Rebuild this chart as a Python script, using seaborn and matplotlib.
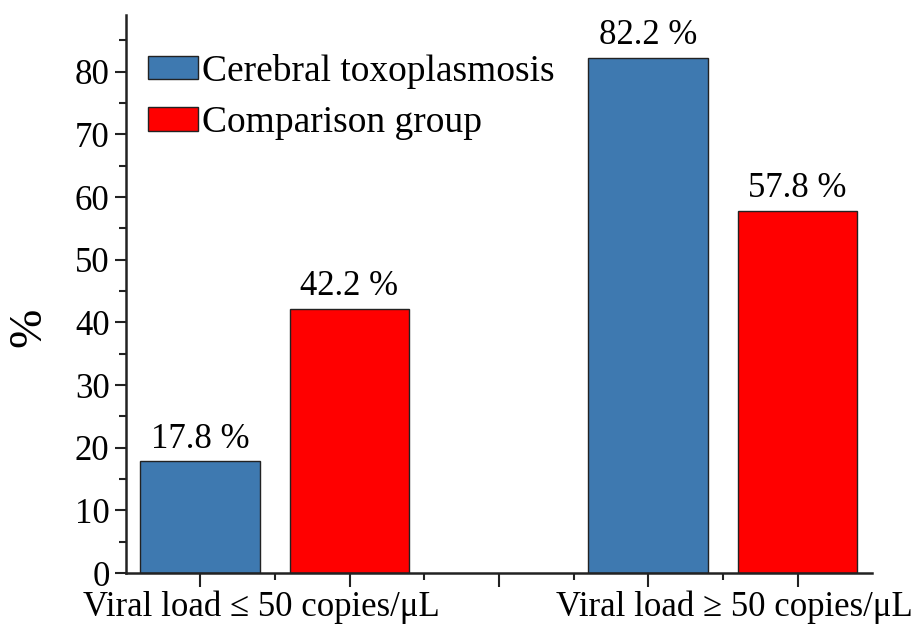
import matplotlib
matplotlib.use("Agg")
import matplotlib.pyplot as plt
import pandas as pd
import seaborn as sns

categories = ["Viral load \u2264 50 copies/\u03bcL", "Viral load \u2265 50 copies/\u03bcL"]
groups = ["Cerebral toxoplasmosis", "Comparison group"]
toxo_values = [17.8, 82.2]
comparison_values = [42.2, 57.8]
colors = ["#3E79B0", "#FF0000"]

sns.set_theme(style="ticks")
plt.rcParams["font.family"] = ["Liberation Serif", "DejaVu Serif"]
plt.rcParams["font.size"] = 25
plt.rcParams["text.color"] = "black"
plt.rcParams["axes.labelcolor"] = "black"
plt.rcParams["xtick.color"] = "black"
plt.rcParams["ytick.color"] = "black"

# one row per bar, the two groups sit side by side with a gap between categories
rows = []
for i, cat in enumerate(categories):
    for j, (grp, vals) in enumerate(zip(groups, [toxo_values, comparison_values])):
        rows.append({"pos": 3 * i + j + 1, "value": vals[i], "group": grp})
df = pd.DataFrame(rows)

fig = plt.figure(figsize=(9.23, 6.36), dpi=100)
ax = fig.add_axes([0.136, 0.099, 0.809, 0.877])

sns.barplot(
    data=df, x="pos", y="value", hue="group", hue_order=groups,
    palette=colors, native_scale=True, dodge=False, width=0.8,
    edgecolor="#222222", linewidth=1.0, saturation=1, ax=ax,
)

for cont in ax.containers:
    ax.bar_label(cont, fmt="%.1f %%", padding=4, fontsize=25, color="black")

ax.set_xlim(0.5, 5.5)
ax.set_ylim(0, 89)
ax.set_yticks(range(0, 90, 10))
ax.set_yticks(range(5, 90, 10), minor=True)
ax.set_xticks([1, 2, 3, 4, 5], labels=[""] * 5)
ax.set_xticks([1.5, 2.5, 3.5, 4.5], labels=[""] * 4, minor=True)

# category labels sit under each pair, a little off the pair centre as in the original
for cat, xc in zip(categories, [1.41, 4.58]):
    ax.text(xc, -0.032, cat, transform=ax.get_xaxis_transform(),
            ha="center", va="top", fontsize=25)

ax.tick_params(axis="both", which="major", direction="out", length=8, width=1.5, labelsize=25, color="#222222")
ax.tick_params(axis="both", which="minor", direction="out", length=5, width=1.5, labelsize=25, color="#222222")
ax.tick_params(axis="x", which="major", length=10)

for side in ["top", "right"]:
    ax.spines[side].set_visible(False)
for side in ["left", "bottom"]:
    ax.spines[side].set_linewidth(1.8)
    ax.spines[side].set_color("#222222")

ax.set_xlabel("")
ax.set_ylabel("%", fontsize=34)
ax.yaxis.set_label_coords(-0.1, 0.44)

ax.legend(
    loc="upper left", bbox_to_anchor=(0.03, 0.931), frameon=False, fontsize=27,
    handlelength=1.33, handleheight=0.6, handletextpad=0.1, labelspacing=0.45,
    borderaxespad=0, borderpad=0,
)

fig.savefig("out.png", dpi=100)
